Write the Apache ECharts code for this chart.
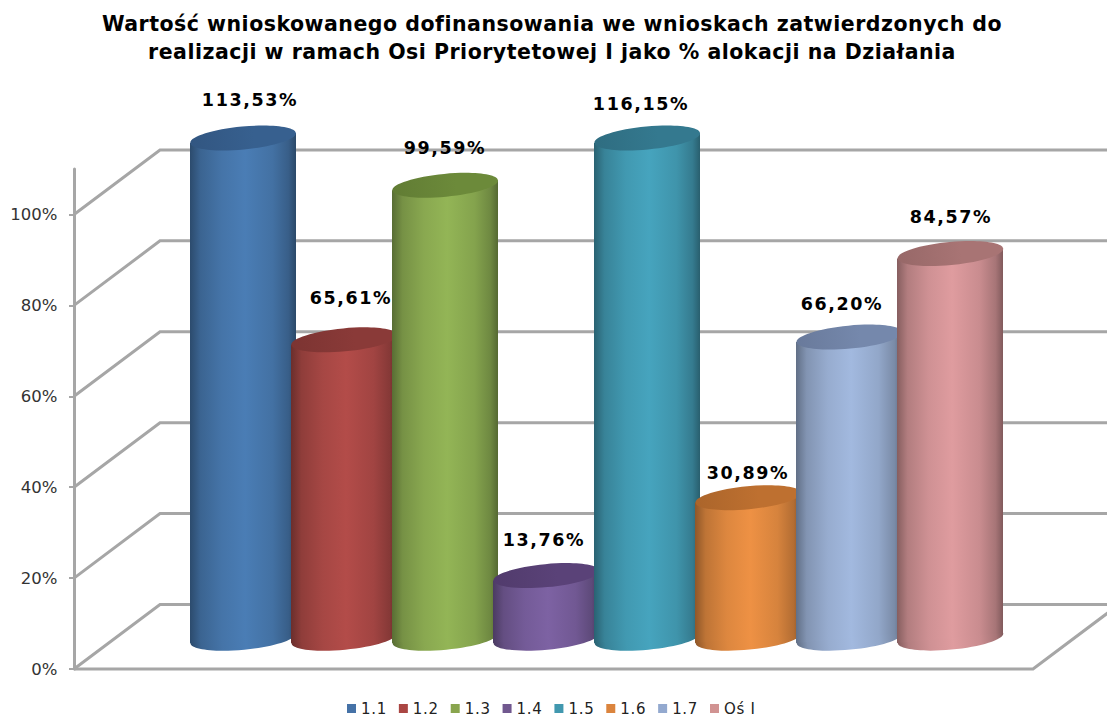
<!DOCTYPE html>
<html><head><meta charset="utf-8">
<style>html,body{margin:0;padding:0;background:#fff}#c{width:1107px;height:717px}
#c text[style*="20.5px"]{letter-spacing:.5px}
#c text[style*="17.5px"]{letter-spacing:1.6px}
#c text[style*="15px"]{letter-spacing:.7px}
</style>
<script src="https://cdn.jsdelivr.net/npm/echarts@6/dist/echarts.min.js"></script>
</head><body><div id="c"></div>
<script>
const categories = ['1.1','1.2','1.3','1.4','1.5','1.6','1.7','Oś I'];
const values = [113.53,65.61,99.59,13.76,116.15,30.89,66.20,84.57];
const tickValues = [0,20,40,60,80,100];
const axisMax = 110;
const titleText = 'Wartość wnioskowanego dofinansowania we wnioskach zatwierdzonych do\nrealizacji w ramach Osi Priorytetowej I jako % alokacji na Działania';

const bodyColors = ['#4A7DB5','#B34C49','#93B556','#7D62A3','#46A4BE','#EE9144','#A2B9DF','#DF9C9F'];
const capColors  = ['#37608F','#8A3A38','#6C8A3A','#5A4278','#34798F','#BE7030','#7588AC','#A87474'];
const legendColors = ['#4572A7','#AA4643','#89A54E','#71588F','#4198AF','#DB843D','#93A9CF','#D19392'];
const labelShift = [[7,-38],[7,-42],[0,-37],[-2,-35],[-6,-34],[0,-25],[-7,-33],[1,-37]];

const FONT = '"DejaVu Sans", Verdana, sans-serif';
const GRID = {left:192.5, top:169, width:808, height:500};
const AXIS_OFFSET = 118.5, DEPTH_X = 86, DEPTH_Y = 64.5, FLOOR_END = 1033;
const BAR_DEPTH = 31, RX = 53, RY = 11.5, TILT = 0.094;
const LINE = {stroke:'#A6A6A6', lineWidth:3, fill:'none'};

function shade(hex,f){
  const n=parseInt(hex.slice(1),16);
  const c=[n>>16,(n>>8)&255,n&255].map(v=>Math.round(v*f));
  return 'rgb('+c.join(',')+')';
}
function bodyFill(c){
  return {type:'linear',x:0,y:0,x2:1,y2:0,colorStops:[
    {offset:0,color:shade(c,.6)},{offset:.1,color:shade(c,.8)},{offset:.3,color:shade(c,.93)},
    {offset:.52,color:c},{offset:.78,color:shade(c,.9)},{offset:.93,color:shade(c,.75)},{offset:1,color:shade(c,.58)}]};
}
function wallItem(params,api){
  const v=api.value(1), y=api.coord([0,v])[1], cs=params.coordSys;
  const x0=cs.x-AXIS_OFFSET, bx=x0+DEPTH_X, by=y-DEPTH_Y;
  const kids=[{type:'polyline',shape:{points:[[x0,y],[bx,by],[FLOOR_END+DEPTH_X,by]]},style:LINE}];
  if(v===0){
    kids.push({type:'polyline',shape:{points:[[x0,y],[FLOOR_END,y],[FLOOR_END+DEPTH_X,by]]},style:LINE});
  }
  return {type:'group',children:kids};
}
function barItem(i){
  return function(params,api){
    const val=api.value(1);
    const clipped=Math.min(val,axisMax);
    const top=api.coord([api.value(0),clipped]);
    const base=api.coord([api.value(0),0]);
    const cx=top[0], ty=top[1]-BAR_DEPTH, by=base[1]-BAR_DEPTH;
    const d=RX*Math.sin(TILT);
    const c=bodyColors[i];
    const fill=bodyFill(c);
    const ell=(cy,style)=>({type:'ellipse',shape:{cx:cx,cy:cy,rx:RX,ry:RY},
      rotation:TILT,originX:cx,originY:cy,style:style});
    return {type:'group',children:[
      ell(by,{fill:fill}),
      {type:'polygon',shape:{points:[[cx-RX,ty+d],[cx+RX,ty-d],[cx+RX,by-d],[cx-RX,by+d]]},style:{fill:fill}},
      ell(ty,{fill:{type:'linear',x:0,y:0,x2:1,y2:0,colorStops:[
        {offset:0,color:shade(capColors[i],.9)},{offset:.6,color:capColors[i]},{offset:1,color:capColors[i]}]}}),
      {type:'text',z2:20,style:{text:val.toFixed(2).replace('.',',')+'%',
        x:cx+labelShift[i][0],y:ty+labelShift[i][1],align:'center',verticalAlign:'middle',
        font:'bold 17.5px '+FONT,fill:'#000'}}
    ]};
  };
}
const series=[{type:'custom',name:'wall',silent:true,z:1,renderItem:wallItem,
  data:tickValues.map(v=>[categories[0],v]),encode:{x:0,y:1}}];
categories.forEach((name,i)=>series.push({
  type:'custom',name:name,z:2+i,silent:true,renderItem:barItem(i),
  itemStyle:{color:legendColors[i]},
  data:[[name,values[i]]],encode:{x:0,y:1}
}));
const chart=echarts.init(document.getElementById('c'),null,{renderer:'svg'});
chart.setOption({
  animation:false,
  backgroundColor:'#fff',
  title:{text:titleText,left:547,top:5,textAlign:'center',
    textStyle:{fontFamily:FONT,fontWeight:'bold',fontSize:20.5,lineHeight:28,color:'#000'}},
  legend:{data:categories.map(n=>({name:n,icon:'rect'})),left:347,top:701,padding:0,itemWidth:9,itemHeight:9,itemGap:14,
    textStyle:{fontFamily:FONT,fontSize:15,color:'#222'},selectedMode:false},
  grid:GRID,
  xAxis:{type:'category',data:categories,show:false},
  yAxis:{type:'value',min:0,max:axisMax,interval:20,offset:AXIS_OFFSET,
    axisLine:{show:true,lineStyle:{color:'#A6A6A6',width:3}},
    axisTick:{show:true,length:5,customValues:tickValues,lineStyle:{color:'#A6A6A6',width:2}},
    axisLabel:{customValues:tickValues,formatter:v=>v+'%',fontFamily:FONT,fontSize:16.5,color:'#333',margin:16.5,padding:[6,0,0,0]},
    splitLine:{show:false}},
  series:series
});
</script></body></html>
